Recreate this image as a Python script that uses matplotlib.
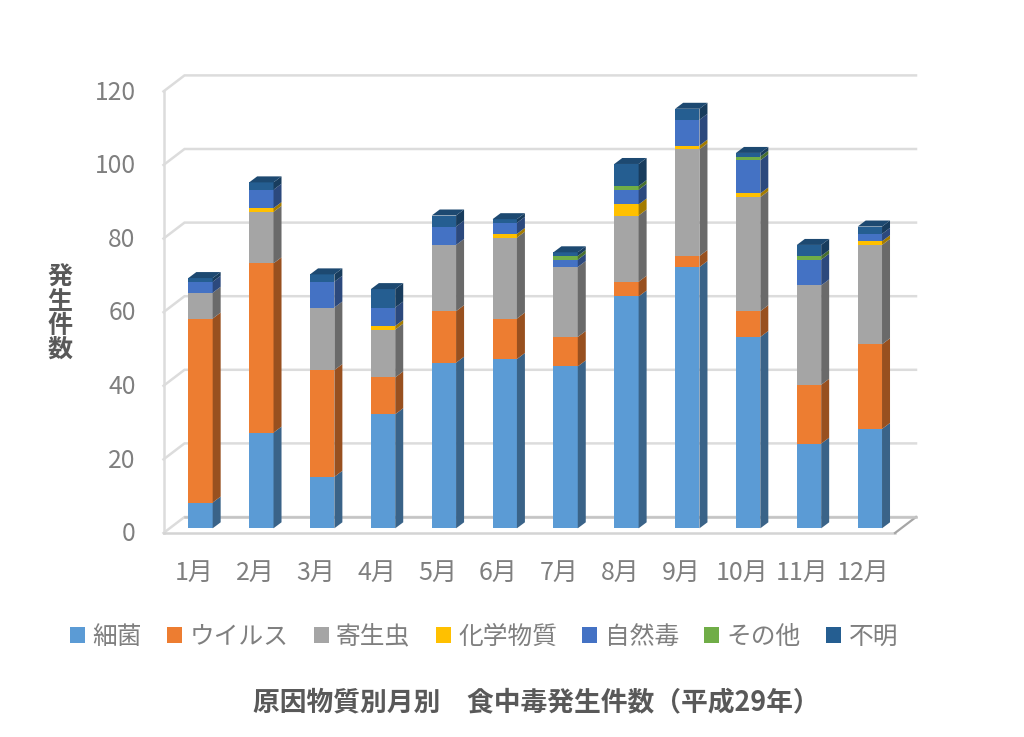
import matplotlib
matplotlib.use('Agg')
import matplotlib.pyplot as plt
from matplotlib.patches import Patch
from matplotlib.colors import to_rgb

plt.rcParams['font.family'] = ['Noto Sans CJK JP', 'DejaVu Sans']

months = ['1月', '2月', '3月', '4月', '5月', '6月', '7月', '8月', '9月', '10月', '11月', '12月']
series_names = ['細菌', 'ウイルス', '寄生虫', '化学物質', '自然毒', 'その他', '不明']
bacteria = [7, 26, 14, 31, 45, 46, 44, 63, 71, 52, 23, 27]
virus = [50, 46, 29, 10, 14, 11, 8, 4, 3, 7, 16, 23]
parasite = [7, 14, 17, 13, 18, 22, 19, 18, 29, 31, 27, 27]
chemical = [0, 1, 0, 1, 0, 1, 0, 3, 1, 1, 0, 1]
natural = [3, 5, 7, 5, 5, 3, 2, 4, 7, 9, 7, 2]
other = [0, 0, 0, 0, 0, 0, 1, 1, 0, 1, 1, 0]
unknown = [1, 2, 2, 5, 3, 1, 1, 6, 3, 1, 3, 2]
y_ticks = [0, 20, 40, 60, 80, 100, 120]

series = [bacteria, virus, parasite, chemical, natural, other, unknown]
colors = ['#5B9BD5', '#ED7D31', '#A5A5A5', '#FFC000', '#4472C4', '#70AD47', '#255E91']

W, H = 1024, 737
PX_X = 60.85  # pixels per month
PX_Y = 3.68   # pixels per case
bar_w = 0.40
depth_x = 8 / PX_X
depth_y = 6 / PX_Y
wall_dx = 21 / PX_X
front_y = -4.7 / PX_Y
back_y = 11.3 / PX_Y
x_left = (163.5 - 200.5) / PX_X
x_right = (916 - 200.5) / PX_X
y_bottom = front_y
y_top = (528.3 - 75) / PX_Y


def shade(color, k):
    return tuple(c * k for c in to_rgb(color))


fig = plt.figure(figsize=(W / 100, H / 100), dpi=100, facecolor='white')
ax = fig.add_axes([163.5 / W, 1 - 533 / H, (916 - 163.5) / W, (533 - 75) / H])
ax.set_xlim(x_left, x_right)
ax.set_ylim(y_bottom, y_top)
for s in ax.spines.values():
    s.set_visible(False)

# walls and grid
grid_c = '#DCDCDC'
for v in y_ticks:
    ax.plot([x_left, x_left + wall_dx, x_right], [v + front_y, v + back_y, v + back_y],
            color=grid_c, lw=1.8, zorder=1, clip_on=False, solid_joinstyle='miter')
ax.plot([x_left, x_left], [front_y, 120 + front_y], color=grid_c, lw=1.8, zorder=1, clip_on=False)
ax.plot([x_left, x_right - wall_dx], [front_y, front_y], color='#D4D4D4', lw=1.8, zorder=1, clip_on=False)
ax.plot([x_right - wall_dx, x_right], [front_y, back_y], color='#A6A6A6', lw=1.6, zorder=1, clip_on=False)
ax.plot([x_left + wall_dx, x_right], [back_y, back_y], color='#C4C4C4', lw=1.8, zorder=1, clip_on=False)

# stacked 3d looking bars
positions = list(range(len(months)))
totals = [0] * len(months)
for name, vals, col in zip(series_names, series, colors):
    ax.bar(positions, vals, bar_w, bottom=totals, color=col, linewidth=0, zorder=3)
    for i, v in enumerate(vals):
        if v == 0:
            continue
        x1 = i + bar_w / 2
        b, t = totals[i], totals[i] + v
        ax.fill([x1, x1 + depth_x, x1 + depth_x, x1],
                [b, b + depth_y, t + depth_y, t],
                color=shade(col, 0.64), linewidth=0, zorder=3)
    totals = [a + b for a, b in zip(totals, vals)]

# top face takes the colour of the last non zero series
for i, total in enumerate(totals):
    top_col = [c for vals, c in zip(series, colors) if vals[i] > 0][-1]
    x0 = i - bar_w / 2
    ax.fill([x0, x0 + bar_w, x0 + bar_w + depth_x, x0 + depth_x],
            [total, total, total + depth_y, total + depth_y],
            color=shade(top_col, 0.78), linewidth=0, zorder=3)

ax.set_xticks([p - 0.105 for p in positions])
ax.set_xticklabels(months, fontsize=18, color='#7F7F7F')
ax.set_yticks([v + front_y + 0.5 for v in y_ticks])
ax.set_yticklabels(y_ticks, fontsize=17.8, color='#7F7F7F')
ax.tick_params(axis='x', length=0, pad=19)
ax.tick_params(axis='y', length=0, pad=20)

fig.text(60 / W, 1 - 314 / H, '\n'.join('発生件数'), fontsize=18, fontweight='bold',
         color='#595959', ha='center', va='center', linespacing=1.0)
fig.text(536 / W, 1 - 702 / H, '原因物質別月別　食中毒発生件数（平成29年）', fontsize=19.3,
         fontweight='bold', color='#595959', ha='center', va='center')

handles = [Patch(facecolor=c, linewidth=0) for c in colors]
fig.legend(handles, series_names, loc='center', bbox_to_anchor=(484 / W, 1 - 637 / H), ncol=7,
           frameon=False, fontsize=17.8, labelcolor='#7F7F7F', handlelength=0.6, handleheight=0.6,
           handletextpad=0.3, columnspacing=1.03)

fig.savefig('out.png', dpi=100)
plt.close(fig)
